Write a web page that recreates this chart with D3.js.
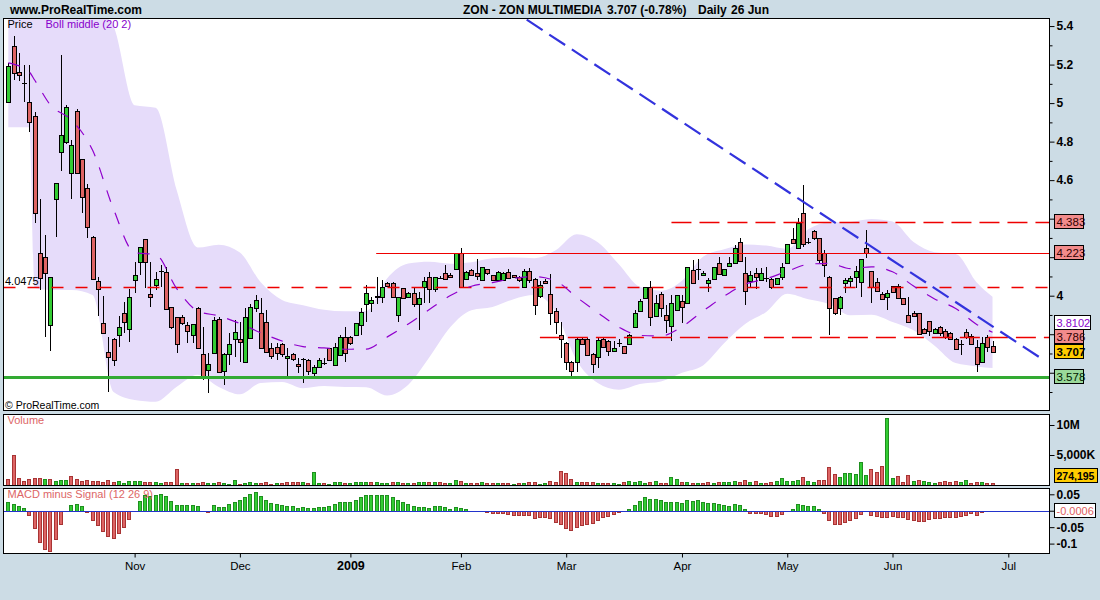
<!DOCTYPE html>
<html>
<head>
<meta charset="utf-8">
<script src="https://cdn.jsdelivr.net/npm/d3@7/dist/d3.min.js"></script>
<style>
html,body{margin:0;padding:0;background:#ccdce5;}
svg{display:block;}
text{font-family:Arial,"Liberation Sans",sans-serif;}
</style>
</head>
<body>
<svg id="chart" width="1100" height="600"></svg>
<script>
// ---------------- DATA ----------------
const opens=[5.007,5.296,5.161,5.102,5.004,4.933,4.22,4.199,3.848,4.5,
4.747,4.799,4.635,4.96,4.708,4.557,4.306,4.078,3.857,3.708,
3.777,3.794,3.909,3.826,4.081,4.176,4.296,4.009,4.056,4.13,
4.125,3.943,3.888,3.888,3.846,3.794,3.936,3.697,3.614,3.701,
3.877,3.611,3.697,3.774,3.774,3.657,3.779,3.935,3.909,3.865,
3.727,3.732,3.749,3.675,3.697,3.646,3.671,3.666,3.597,3.632,
3.652,3.727,3.64,3.692,3.784,3.787,3.796,3.848,3.957,3.964,
3.998,3.995,4.067,4.067,3.9,4.038,3.995,4.016,3.957,4.047,
4.095,4.033,4.09,4.116,4.107,4.137,4.22,4.085,4.133,4.116,
4.081,4.137,4.107,4.081,4.081,4.125,4.107,4.099,4.047,4.13,
4.085,3.998,4.078,4.009,3.921,3.796,3.753,3.657,3.657,3.775,
3.774,3.697,3.68,3.775,3.766,3.715,3.753,3.739,3.748,3.836,
3.921,3.987,4.044,3.895,4.007,3.9,3.843,3.926,3.974,3.961,
4.133,4.14,4.106,4.067,4.085,4.168,4.106,4.154,4.168,4.277,
4.116,4.078,4.116,4.081,4.093,4.085,4.061,4.095,4.171,4.293,
4.246,4.428,4.277,4.338,4.298,4.22,4.099,3.987,3.935,4.064,
4.078,4.095,4.07,4.246,4.127,4.073,4.007,3.995,4.05,4.052,
3.987,3.9,3.912,3.909,3.826,3.87,3.805,3.836,3.818,3.805,
3.777,3.749,3.813,3.792,3.735,3.657,3.787,3.739];
const highs=[5.21,5.348,5.258,5.197,5.197,4.955,4.5,4.315,4.095,4.586,
5.249,4.99,4.808,4.97,4.71,4.578,4.31,4.095,3.998,3.784,
3.78,3.895,3.969,4.033,4.176,4.254,4.296,4.176,4.125,4.159,
4.151,3.943,3.888,3.9,3.865,3.853,3.94,3.839,3.704,3.891,
3.891,3.70,3.805,3.874,3.865,3.935,3.957,4.004,3.987,3.926,
3.753,3.753,3.753,3.727,3.70,3.675,3.675,3.67,3.64,3.675,
3.675,3.73,3.753,3.796,3.839,3.79,3.86,3.935,4.056,3.995,
4.095,4.081,4.07,4.07,3.995,4.04,4.02,4.047,4.021,4.099,
4.125,4.095,4.10,4.159,4.12,4.22,4.246,4.13,4.14,4.189,
4.15,4.14,4.11,4.13,4.125,4.14,4.11,4.10,4.14,4.142,
4.09,4.076,4.085,4.113,3.935,3.865,3.76,3.66,3.78,3.787,
3.78,3.70,3.78,3.78,3.77,3.766,3.774,3.74,3.80,3.926,
3.983,4.047,4.078,4.004,4.021,3.952,4.004,4.004,4.004,4.15,
4.185,4.189,4.13,4.09,4.15,4.2,4.14,4.2,4.263,4.298,
4.2,4.13,4.142,4.142,4.147,4.09,4.09,4.168,4.27,4.35,
4.402,4.575,4.30,4.34,4.30,4.237,4.10,3.99,4.0,4.09,
4.10,4.154,4.19,4.341,4.13,4.09,4.02,4.03,4.05,4.06,
3.99,3.992,3.92,3.91,3.83,3.87,3.83,3.845,3.825,3.81,
3.78,3.77,3.826,3.80,3.77,3.787,3.796,3.766];
const lows=[5.0,5.12,5.117,5.007,4.851,4.379,4.03,3.784,3.715,4.306,
4.649,4.79,4.5,4.63,4.431,4.298,4.08,3.895,3.805,3.502,
3.635,3.735,3.805,3.761,4.016,4.107,4.038,3.943,4.03,4.047,
3.929,3.826,3.704,3.85,3.756,3.753,3.725,3.562,3.493,3.70,
3.605,3.537,3.64,3.683,3.657,3.655,3.778,3.917,3.727,3.709,
3.67,3.666,3.68,3.58,3.66,3.597,3.545,3.588,3.583,3.63,
3.64,3.666,3.64,3.692,3.657,3.744,3.796,3.796,3.865,3.917,
3.957,3.964,4.05,3.99,3.865,3.985,3.99,3.943,3.822,3.964,
3.961,4.02,4.085,4.08,4.09,4.137,4.038,4.08,4.1,4.081,
4.08,4.11,4.075,4.08,4.08,4.085,4.09,4.07,4.047,4.064,
3.9,3.99,4.06,3.848,3.801,3.675,3.614,3.58,3.605,3.745,
3.69,3.60,3.623,3.73,3.687,3.71,3.735,3.70,3.745,3.836,
3.92,3.987,3.843,3.895,3.888,3.808,3.766,3.926,3.857,3.96,
4.067,4.081,4.10,4.021,4.085,4.11,4.10,4.15,4.168,4.18,
3.952,4.038,4.033,4.08,4.07,4.033,4.06,4.08,4.17,4.27,
4.246,4.254,4.27,4.29,4.17,4.099,3.796,3.90,3.9,4.016,
4.038,4.038,3.995,4.194,3.964,4.02,3.98,3.926,4.02,3.985,
3.95,3.86,3.89,3.80,3.80,3.792,3.80,3.79,3.775,3.77,
3.72,3.692,3.775,3.745,3.605,3.655,3.709,3.70];
const closes=[5.192,5.154,5.144,5.102,4.9,4.428,4.09,4.116,4.095,4.586,
4.832,4.981,4.781,4.638,4.511,4.358,4.085,4.033,3.805,3.68,
3.666,3.836,3.864,3.995,4.109,4.254,4.175,3.995,4.085,4.13,
3.929,3.836,3.749,3.857,3.818,3.853,3.727,3.571,3.646,3.874,
3.605,3.697,3.749,3.813,3.761,3.888,3.94,3.978,3.727,3.709,
3.687,3.704,3.697,3.687,3.67,3.635,3.671,3.611,3.632,3.666,
3.652,3.666,3.735,3.784,3.704,3.756,3.857,3.917,4.016,3.978,
3.992,4.047,4.05,3.992,3.995,3.99,4.016,3.957,3.987,4.078,
4.033,4.095,4.09,4.085,4.095,4.22,4.047,4.125,4.107,4.10,
4.147,4.116,4.081,4.125,4.12,4.09,4.095,4.081,4.13,4.081,
3.952,4.058,4.064,3.909,3.865,3.774,3.657,3.611,3.774,3.749,
3.692,3.646,3.77,3.735,3.715,3.727,3.753,3.704,3.794,3.909,
3.972,4.044,3.888,3.964,3.938,3.874,3.964,4.004,3.943,4.147,
4.067,4.14,4.116,4.081,4.147,4.113,4.137,4.168,4.246,4.182,
4.026,4.106,4.095,4.116,4.093,4.044,4.09,4.147,4.268,4.275,
4.379,4.268,4.277,4.298,4.185,4.159,3.935,3.909,3.995,4.081,
4.092,4.13,4.19,4.223,4.044,4.026,3.984,4.016,4.021,3.987,
3.957,3.865,3.895,3.801,3.808,3.817,3.826,3.808,3.784,3.774,
3.722,3.749,3.784,3.749,3.646,3.756,3.736,3.707];
// volume in millions of shares
const volumes=[1.05,5.05,1.17,0.72,1.05,1.17,1.17,1.0,1.05,0.67,
0.83,0.83,1.56,1.0,0.67,0.83,0.72,0.72,0.5,0.83,
0.56,0.72,0.33,0.67,0.67,0.67,0.5,0.5,0.5,0.33,
0.5,0.5,2.72,0.33,0.33,0.33,0.33,0.5,0.33,0.33,
0.5,0.33,0.17,0.83,0.17,0.33,0.5,0.33,0.33,0.5,
0.17,0.33,0.33,0.5,0.5,0.5,0.5,0.33,2.17,0.33,
0.33,0.17,0.5,0.5,0.33,0.33,0.5,0.5,0.5,0.5,
0.5,0.33,0.33,0.5,0.5,0.33,0.33,0.33,0.5,0.5,
0.5,0.5,0.5,0.33,0.33,0.89,0.72,0.33,0.33,0.33,
0.5,0.33,0.33,0.33,0.33,0.33,0.17,0.33,0.33,0.5,
0.5,0.17,0.33,0.72,0.5,2.39,2.0,1.05,0.5,0.5,
0.5,0.5,0.33,0.33,0.33,0.33,0.17,0.5,0.67,0.5,
0.67,0.33,0.5,0.72,0.33,0.33,1.39,1.05,0.5,0.5,
0.33,0.33,0.33,0.5,0.33,0.5,0.5,0.5,0.67,0.5,
0.83,0.5,0.72,0.39,0.39,0.5,0.72,1.17,0.72,0.72,
0.89,1.39,0.67,0.5,0.83,0.83,3.06,1.83,1.39,2.0,
2.0,1.89,3.83,1.72,2.72,2.17,3.17,11.17,1.17,1.5,
0.5,1.72,0.72,0.83,0.72,0.5,0.39,0.5,0.61,0.5,
0.67,0.5,0.83,0.39,0.5,0.5,0.33,0.27];
const macdHist=[0.0255,0.019,0.013,0.007,-0.012,-0.052,-0.095,-0.116,-0.123,-0.087,
-0.04,0,0.016,0.019,0.013,-0.004,-0.028,-0.043,-0.062,-0.077,
-0.083,-0.067,-0.049,-0.024,0.003,0.03,0.047,0.045,0.047,0.052,
0.044,0.031,0.016,0.016,0.016,0.018,0.013,0,-0.004,0.016,
0.01,0.012,0.019,0.027,0.032,0.041,0.051,0.058,0.044,0.034,
0.024,0.02,0.016,0.013,0.013,0.009,0.011,0.007,0.007,0.01,
0.01,0.013,0.019,0.026,0.026,0.026,0.032,0.041,0.049,0.049,
0.049,0.049,0.049,0.041,0.034,0.028,0.021,0.015,0.01,0.012,
0.009,0.013,0.013,0.01,0.006,0.012,0.007,0.004,0,0,
0,-0.004,-0.006,-0.006,-0.006,-0.01,-0.012,-0.012,-0.012,-0.012,
-0.021,-0.018,-0.018,-0.022,-0.035,-0.04,-0.053,-0.058,-0.049,-0.043,
-0.04,-0.037,-0.028,-0.019,-0.016,-0.009,-0.004,0,0.006,0.018,
0.031,0.043,0.037,0.037,0.034,0.028,0.028,0.028,0.024,0.034,
0.031,0.034,0.028,0.024,0.024,0.021,0.018,0.015,0.019,0.016,
0.004,-0.006,-0.006,-0.006,-0.01,-0.015,-0.015,-0.01,0,0.006,
0.019,0.016,0.013,0.013,0.004,-0.006,-0.028,-0.04,-0.04,-0.034,
-0.028,-0.022,-0.009,0,-0.012,-0.015,-0.018,-0.018,-0.015,-0.018,
-0.018,-0.024,-0.028,-0.031,-0.031,-0.024,-0.021,-0.021,-0.018,-0.018,
-0.018,-0.015,-0.012,-0.006,-0.012,-0.004,-0.001,-0.0006];
// Bollinger (20,2) samples: bar index, upper, middle, lower
const bollIdx=[0,4,5,8,12,16,20,24,28,32,36,40,44,48,52,56,60,64,68,72,76,80,84,88,92,96,100,104,108,112,116,120,124,128,132,136,140,144,148,152,156,160,164,168,172,176,180,184,187];
const bollUpper=[5.55,5.45,6.18,5.95,5.79,5.51,5.398,4.989,4.976,4.547,4.25,4.265,4.224,4.068,3.978,3.951,3.927,3.919,3.921,4.091,4.167,4.176,4.166,4.174,4.194,4.198,4.195,4.236,4.319,4.277,4.163,4.046,4.026,4.078,4.202,4.241,4.266,4.26,4.243,4.345,4.38,4.383,4.398,4.385,4.279,4.226,4.217,4.069,3.995];
const bollMid=[5.209,5.161,5.12,4.99,4.912,4.756,4.449,4.224,4.213,4.037,3.92,3.895,3.856,3.807,3.765,3.736,3.729,3.722,3.723,3.786,3.853,3.928,4.001,4.049,4.068,4.09,4.099,4.076,3.992,3.912,3.837,3.794,3.791,3.839,3.92,3.997,4.06,4.088,4.127,4.163,4.168,4.141,4.15,4.124,4.05,3.983,3.934,3.851,3.81];
const bollLower=[4.875,4.875,4.04,4.03,4.03,4.004,3.50,3.459,3.45,3.527,3.59,3.526,3.488,3.547,3.552,3.52,3.531,3.526,3.525,3.482,3.538,3.68,3.837,3.924,3.941,3.982,4.003,3.916,3.664,3.547,3.512,3.542,3.555,3.6,3.638,3.753,3.853,3.916,4.01,3.981,3.956,3.898,3.901,3.863,3.82,3.74,3.65,3.633,3.624];
// drawn levels
const levelPrices=[4.383,4.223,4.0475,3.786,3.578];
const levelStartIdx=[126,69.9,-2,101,-2];
const trendIdx=[98.5,197];
const trendPrice=[5.433,3.661];
// axes
const priceTicks=[3.6,3.8,4,4.2,4.4,4.6,4.8,5,5.2,5.4];
const priceMinor=[3.5,3.7,3.9,4.1,4.3,4.5,4.7,4.9,5.1,5.3];
const volTicks=[5,10];
const volTickLabels=["5,000K","10M"];
const macdTicks=[0.05,0,-0.05,-0.1];
const macdTickLabels=["0.05","0","-0.05","-0.1"];
const monthTickIdx=[24,44,65,86,106,128,148,168,190];
const monthLabels=["Nov","Dec","2009","Feb","Mar","Apr","May","Jun","Jul"];

// ---------------- DRAW ----------------
const svg=d3.select("#chart");
svg.append("rect").attr("width",1100).attr("height",600).attr("fill","#ccdce5");

const x=d3.scaleLinear().domain([0,190]).range([8.3,1008.3]);
const yP=d3.scaleLinear().domain([3.6,5.4]).range([372.74,26.06]);
const yV=d3.scaleLinear().domain([0,10]).range([485,425]);
const yM=d3.scaleLinear().domain([-0.1,0.05]).range([543.6,494.3]);

const L=3.5,R=1049.5;
const PT=18.5,PB=410.5, VT=414.5,VB=485.5, MT=488.5,MB=553.5;
[[PT,PB],[VT,VB],[MT,MB]].forEach(([t,b])=>{
  svg.append("rect").attr("x",L).attr("y",t).attr("width",R-L).attr("height",b-t).attr("fill","#fff");
});
const defs=svg.append("defs");
[["cp",PT,PB],["cv",VT,VB],["cm",MT,MB]].forEach(([id,t,b])=>{
  defs.append("clipPath").attr("id",id).append("rect").attr("x",L).attr("y",t).attr("width",R-L).attr("height",b-t);
});

const GREEN="#33cc33", RED="#dd6464";
const gP=svg.append("g").attr("clip-path","url(#cp)");

// Bollinger band
const boll=bollIdx.map((b,k)=>({i:b,u:bollUpper[k],m:bollMid[k],l:bollLower[k]}));
gP.append("path").datum(boll)
  .attr("d",d3.area().x(d=>x(d.i)).y0(d=>yP(d.l)).y1(d=>yP(d.u)).curve(d3.curveMonotoneX))
  .attr("fill","#e6dcfa");

// candles
const bars=d3.range(opens.length).map(i=>({i,o:opens[i],h:highs[i],l:lows[i],c:closes[i]}));
const cg=gP.append("g").attr("shape-rendering","crispEdges");
bars.forEach(d=>{
  const r=Math.round(x(d.i));
  cg.append("line").attr("x1",r+0.5).attr("x2",r+0.5).attr("y1",yP(d.h)).attr("y2",yP(d.l)).attr("stroke","#000");
  if(d.o===d.c){
    const yy=Math.round(yP(d.o))+0.5;
    cg.append("line").attr("x1",r-2).attr("x2",r+3).attr("y1",yy).attr("y2",yy).attr("stroke","#000");
  } else {
    const top=Math.round(yP(Math.max(d.o,d.c)))+0.5, bot=Math.round(yP(Math.min(d.o,d.c)))+0.5;
    cg.append("rect").attr("x",r-1.5).attr("y",top).attr("width",4).attr("height",Math.max(1,bot-top))
      .attr("fill",d.c>d.o?GREEN:RED).attr("stroke","#000");
  }
});

// levels
const lg=gP.append("g");
const lineStyles=[
  {c:"#ee0000",w:1.3,dash:"20,8"},
  {c:"#ee0000",w:1.2,dash:null},
  {c:"#ee0000",w:1.3,dash:"12,12"},
  {c:"#ee0000",w:1.3,dash:"20,8"},
  {c:"#33aa33",w:3.2,dash:null}
];
levelPrices.forEach((p,k)=>{
  const s=lineStyles[k];
  const ln=lg.append("line").attr("x1",Math.max(L,x(levelStartIdx[k]))).attr("x2",R)
    .attr("y1",Math.round(yP(p))+0.5).attr("y2",Math.round(yP(p))+0.5)
    .attr("stroke",s.c).attr("stroke-width",s.w);
  if(s.dash) ln.attr("stroke-dasharray",s.dash);
});
// trend line
lg.append("line").attr("x1",x(trendIdx[0])).attr("y1",yP(trendPrice[0])).attr("x2",x(trendIdx[1])).attr("y2",yP(trendPrice[1]))
  .attr("stroke","#3333dd").attr("stroke-width",2.2).attr("stroke-dasharray","19,8");
// Boll middle
gP.append("path").datum(boll)
  .attr("d",d3.line().x(d=>x(d.i)).y(d=>yP(d.m)).curve(d3.curveMonotoneX))
  .attr("fill","none").attr("stroke","#9000cc").attr("stroke-width",1.2).attr("stroke-dasharray","12,12");

// Volume bars
const vg=svg.append("g").attr("clip-path","url(#cv)").attr("shape-rendering","crispEdges");
volumes.forEach((v,i)=>{
  const up=i>0 && closes[i]>closes[i-1];
  const r=Math.round(x(i));
  const top=Math.round(yV(v))+0.5;
  vg.append("rect").attr("x",r-1.5).attr("y",top).attr("width",3).attr("height",Math.max(1,485-top))
    .attr("fill",up?GREEN:RED).attr("stroke",up?"#1f8f1f":"#a83434");
});

// MACD histogram
const mg=svg.append("g").attr("clip-path","url(#cm)").attr("shape-rendering","crispEdges");
const z=Math.round(yM(0))+0.5;
macdHist.forEach((v,i)=>{
  if(v===0 || Math.abs(yM(v)-yM(0))<1) return;
  const r=Math.round(x(i));
  const yv=Math.round(yM(v))+0.5;
  mg.append("rect").attr("x",r-1.5).attr("y",Math.min(z,yv)).attr("width",3).attr("height",Math.abs(yv-z))
    .attr("fill",v>0?GREEN:RED).attr("stroke",v>0?"#1f8f1f":"#a83434");
});
mg.append("line").attr("x1",L).attr("x2",R).attr("y1",z).attr("y2",z).attr("stroke","#2233cc").attr("stroke-width",1.2);

// panel borders
[[PT,PB],[VT,VB],[MT,MB]].forEach(([t,b])=>{
  svg.append("rect").attr("x",L).attr("y",t).attr("width",R-L).attr("height",b-t)
    .attr("fill","none").attr("stroke","#000").attr("stroke-width",1.2).attr("shape-rendering","crispEdges");
});

// Axes
function styleAxis(g,bold){
  g.select(".domain").remove();
  g.selectAll("line").attr("stroke","#000");
  g.selectAll("text").attr("font-size",12).attr("font-weight",bold?"bold":"normal").attr("fill","#000")
    .attr("font-family","Arial, 'Liberation Sans', sans-serif");
}
const ga=svg.append("g").attr("transform",`translate(${R},0)`)
  .call(d3.axisRight(yP).tickValues(priceTicks).tickSize(5).tickPadding(2).tickFormat(d=>String(+d.toFixed(1))));
styleAxis(ga,true);
const gm=svg.append("g").attr("transform",`translate(${R},0)`)
  .call(d3.axisRight(yP).tickValues(priceMinor).tickSize(3).tickFormat(""));
styleAxis(gm,true);
const gv=svg.append("g").attr("transform",`translate(${R},0)`)
  .call(d3.axisRight(yV).tickValues(volTicks).tickSize(5).tickPadding(2).tickFormat((d,k)=>volTickLabels[k]));
styleAxis(gv,true);
const gmc=svg.append("g").attr("transform",`translate(${R},0)`)
  .call(d3.axisRight(yM).tickValues(macdTicks).tickSize(5).tickPadding(2).tickFormat((d,k)=>macdTickLabels[k]));
styleAxis(gmc,true);
const gx=svg.append("g").attr("transform",`translate(0,${MB})`)
  .call(d3.axisBottom(x).tickValues(monthTickIdx).tickSize(4).tickPadding(4).tickFormat((d,k)=>monthLabels[k]));
styleAxis(gx,false);
gx.selectAll("text").attr("font-size",11.5);
gx.selectAll("text").filter(d=>monthLabels[monthTickIdx.indexOf(d)]==="2009").attr("font-weight","bold").attr("font-size",12.5);

// Right value boxes (drawn over the axis; axis labels hidden behind a box are dropped)
const boxes=[];
function vbox(yc,w,fill,txt,color,bold,fs){
  const t=Math.round(yc)-7.5;
  boxes.push({x0:1054.5,x1:1054.5+w,y0:t,y1:t+14});
  svg.append("rect").attr("x",1054.5).attr("y",t).attr("width",w).attr("height",14)
    .attr("fill",fill).attr("stroke","#000").attr("shape-rendering","crispEdges");
  svg.append("text").attr("x",1056.5).attr("y",t+11).attr("font-size",fs||11.5)
    .attr("font-weight",bold?"bold":"normal").attr("fill",color).text(txt);
}
vbox(yP(levelPrices[0]),29,"#f28b8b","4.383","#300000",false);
vbox(yP(levelPrices[1]),29,"#f28b8b","4.223","#300000",false);
vbox(yP(levelPrices[3])-14,36,"#ffffff","3.8102","#8800cc",false,11);
vbox(yP(levelPrices[3]),29,"#f28b8b","3.786","#300000",false);
vbox(yP(closes[closes.length-1]),29,"#ffcc00","3.707","#000",true);
vbox(yP(levelPrices[4]),29,"#9ad99a","3.578","#002000",false);
vbox(476,43,"#ffcc00","274,195","#000",true,10.5);
vbox(yM(macdHist[macdHist.length-1]),41,"#ffffff","-0.0006","#e06060",false,11);

[ga,gmc].forEach(g=>{
  g.selectAll(".tick text").each(function(){
    const b=this.getBoundingClientRect();
    const hit=boxes.some(q=>b.left<q.x1 && b.right>q.x0 && b.top<q.y1 && b.bottom>q.y0);
    if(hit) d3.select(this).remove();
  });
});

// Texts
svg.append("text").attr("x",10).attr("y",14).attr("font-size",12).attr("font-weight","bold").text("www.ProRealTime.com");
const tt=[["ZON - ZON MULTIMEDIA",463],["3.707 (-0.78%)",607],["Daily",698],["26 Jun",731]];
tt.forEach(([s,xx])=>svg.append("text").attr("x",xx).attr("y",14).attr("font-size",12).attr("font-weight","bold").text(s));
svg.append("text").attr("x",7.5).attr("y",28).attr("font-size",11).text("Price");
svg.append("text").attr("x",45.5).attr("y",28).attr("font-size",11).attr("fill","#8800cc").text("Boll middle (20 2)");
svg.append("text").attr("x",5).attr("y",285).attr("font-size",11).text("4.0475");
svg.append("text").attr("x",5).attr("y",408.5).attr("font-size",10.5).text("\u00A9 ProRealTime.com");
svg.append("text").attr("x",7.5).attr("y",424).attr("font-size",11).attr("fill","#dd6666").text("Volume");
svg.append("text").attr("x",7.5).attr("y",498).attr("font-size",11).attr("fill","#dd6666").text("MACD minus Signal (12 26 9)");
</script>
</body>
</html>
